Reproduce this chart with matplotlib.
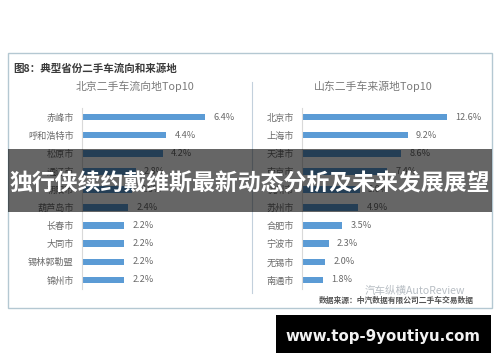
import matplotlib
matplotlib.use('Agg')
import matplotlib.pyplot as plt
from matplotlib.patches import Rectangle

plt.rcParams['font.family'] = ['Noto Sans CJK SC', 'DejaVu Sans']

# 北京二手车流向地
left_title = '北京二手车流向地Top10'
left_cities = ['赤峰市', '呼和浩特市', '松原市', '通辽市', '朝阳市', '葫芦岛市', '长春市', '大同市', '锡林郭勒盟', '锦州市']
left_values = [6.4, 4.4, 4.2, 2.8, 2.6, 2.4, 2.2, 2.2, 2.2, 2.2]

# 山东二手车来源地
right_title = '山东二手车来源地Top10'
right_cities = ['北京市', '上海市', '天津市', '南京市', '杭州市', '苏州市', '合肥市', '宁波市', '无锡市', '南通市']
right_values = [12.6, 9.2, 8.6, 7.4, 5.0, 4.9, 3.5, 2.3, 2.0, 1.8]

W, H = 500, 362
fig = plt.figure(figsize=(W / 100, H / 100), dpi=100)


def px_axes(x0, y0, x1, y1):
    # pixel box, y measured from the top of the image
    ax = fig.add_axes([x0 / W, 1 - y1 / H, (x1 - x0) / W, (y1 - y0) / H])
    ax.patch.set_visible(False)
    return ax


def draw_bars(ax, cities, values):
    pos = list(range(len(cities)))
    ax.barh(pos, values, height=0.36, color='#5b9bd5')
    ax.set_yticks(pos)
    ax.set_yticklabels(cities, fontsize=6.6, color='#6a6a6a')
    ax.set_ylim(len(cities) - 0.5, -0.5)
    ax.set_xticks([])
    ax.tick_params(axis='y', length=0, pad=6)
    for s in ['top', 'right', 'bottom']:
        ax.spines[s].set_visible(False)
    ax.spines['left'].set_color('#d9d9d9')
    ax.spines['left'].set_linewidth(0.8)
    for p, v in zip(pos, values):
        ax.annotate(f'{v:.1f}%', (v, p), xytext=(6, 0), textcoords='offset points',
                    va='center', fontsize=6.6, color='#6a6a6a')


# panel border
fig.add_artist(Rectangle((8 / W, 1 - 308 / H), 484 / W, 255 / H, transform=fig.transFigure,
                         facecolor='white', edgecolor='#b4c8d2', linewidth=1, zorder=-1))
fig.add_artist(plt.Line2D([252 / W, 252 / W], [1 - 293 / H, 1 - 82 / H], color='#c3d0dc', linewidth=0.8))

fig.text(13 / W, 1 - 68.5 / H, '图8：典型省份二手车流向和来源地', fontsize=7.6, fontweight='bold',
         color='#3a3a3a', va='center')
fig.text(135 / W, 1 - 86 / H, left_title, fontsize=7.8, color='#7a7a7a', ha='center', va='center')
fig.text(373.5 / W, 1 - 86 / H, right_title, fontsize=7.8, color='#7a7a7a', ha='center', va='center')

ax1 = px_axes(82, 108, 240, 289)
ax1.set_xlim(0, 158 / 19.2)
draw_bars(ax1, left_cities, left_values)

ax2 = px_axes(302.3, 108, 490, 289)
ax2.set_xlim(0, 187.7 / 11.46)
draw_bars(ax2, right_cities, right_values)

# watermark and source
fig.text(415 / W, 1 - 291 / H, '汽车纵横AutoReview', fontsize=7.6, color='#b8bec4', ha='center', va='center')
fig.text(396 / W, 1 - 300 / H, '数据来源：中汽数据有限公司二手车交易数据', fontsize=5.6, color='#555555',
         fontweight='bold', ha='center', va='center')

# dark band over the chart
fig.add_artist(Rectangle((8 / W, 1 - 212 / H), 484 / W, 63 / H, transform=fig.transFigure,
                         facecolor='black', edgecolor='none', alpha=0.6, zorder=5))
fig.text(250 / W, 1 - 184 / H, '独行侠续约戴维斯最新动态分析及未来发展展望', fontsize=16.5, fontweight='bold',
         color='white', ha='center', va='center', zorder=6)

# black site box
fig.add_artist(Rectangle((276 / W, 1 - 353 / H), 215 / W, 38 / H, transform=fig.transFigure,
                         facecolor='black', edgecolor='none', zorder=5))
fig.text(383 / W, 1 - 336 / H, 'www.top-9youtiyu.com', fontsize=10.8, fontweight='bold', color='#f2f2f2',
         family='DejaVu Sans', ha='center', va='center', zorder=6)

fig.savefig('out.png', dpi=100)
